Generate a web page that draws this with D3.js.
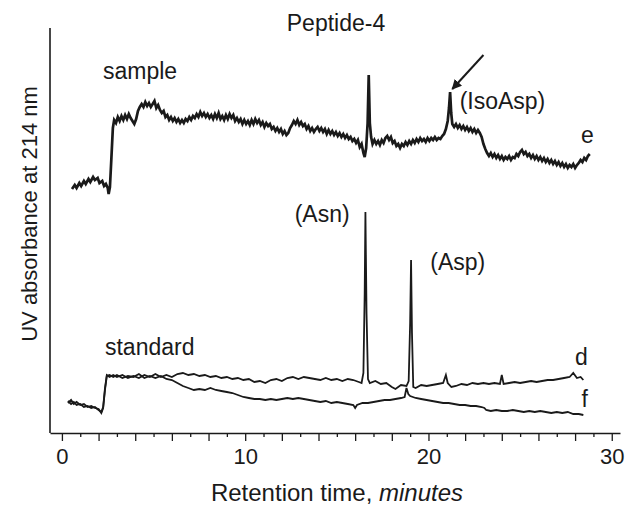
<!DOCTYPE html>
<html>
<head>
<meta charset="utf-8">
<script src="https://cdn.jsdelivr.net/npm/d3@7"></script>
<style>
  body { margin: 0; background: #fff; }
  svg { display: block; font-family: "Liberation Sans", Arial, sans-serif; }
</style>
</head>
<body>
<div id="chart"></div>
<script>
// Chromatogram traces: [retention time (min), UV absorbance (arbitrary units)]
const sampleTrace = [
  [0.55,24.4],[0.7,24.8],[0.8,24.5],[0.95,25.0],[1.05,24.7],[1.2,25.2],[1.3,24.9],[1.45,25.4],[1.55,25.1],[1.7,25.6],
  [1.8,25.3],[1.95,25.5],[2.05,25.0],[2.2,25.2],[2.3,24.7],[2.4,24.9],[2.5,24.5],[2.55,23.9],[2.62,24.6],[2.7,27.5],
  [2.78,30.5],[2.85,31.3],[2.95,31.0],[3.05,31.6],[3.15,31.2],[3.25,31.7],[3.35,31.3],[3.45,31.8],[3.55,31.4],[3.65,31.9],
  [3.75,31.5],[3.85,31.2],[3.95,30.9],[4.05,31.4],[4.15,32.2],[4.25,32.6],[4.35,32.9],[4.45,32.6],[4.55,33.1],[4.65,32.7],
  [4.75,33.0],[4.85,32.6],[4.95,32.9],[5.05,33.2],[5.15,32.5],[5.25,32.8],[5.35,32.3],[5.45,32.0],[5.55,32.2],[5.65,31.6],
  [5.75,31.8],[5.85,31.3],[5.95,31.6],[6.05,31.2],[6.15,31.5],[6.25,31.1],[6.35,31.4],[6.45,31.0],[6.55,31.3],[6.65,31.0],
  [6.75,31.4],[6.85,31.2],[6.95,31.6],[7.05,31.3],[7.15,31.7],[7.25,31.5],[7.35,31.9],[7.45,31.6],[7.55,32.1],[7.65,31.7],
  [7.75,32.0],[7.85,31.6],[7.95,31.9],[8.05,31.5],[8.15,31.8],[8.25,31.4],[8.35,31.9],[8.45,31.5],[8.55,32.0],[8.65,31.4],
  [8.75,31.7],[8.85,31.3],[8.95,31.8],[9.05,31.4],[9.15,31.9],[9.25,31.5],[9.35,31.8],[9.45,31.2],[9.55,31.5],[9.65,31.1],
  [9.75,31.4],[9.85,30.9],[9.95,31.3],[10.05,30.9],[10.15,31.2],[10.25,30.8],[10.35,31.3],[10.45,30.9],[10.55,31.4],[10.65,31.0],
  [10.75,31.3],[10.85,30.8],[10.95,31.1],[11.05,30.6],[11.15,31.0],[11.25,30.7],[11.35,30.9],[11.45,30.4],[11.55,30.6],[11.65,30.2],
  [11.75,30.5],[11.85,30.1],[11.95,30.4],[12.05,29.9],[12.15,30.2],[12.25,29.8],[12.35,30.0],[12.45,30.5],[12.55,30.8],[12.65,31.2],
  [12.75,30.9],[12.85,31.3],[12.95,30.8],[13.05,31.1],[13.15,30.7],[13.25,30.9],[13.35,30.4],[13.45,30.7],[13.55,30.2],[13.65,30.5],
  [13.75,30.1],[13.85,30.4],[13.95,30.6],[14.05,30.2],[14.15,30.5],[14.25,30.1],[14.35,30.4],[14.45,29.9],[14.55,30.3],[14.65,29.9],
  [14.75,30.2],[14.85,29.8],[14.95,30.1],[15.05,29.7],[15.15,30.0],[15.25,29.6],[15.35,29.9],[15.45,29.5],[15.55,29.8],[15.65,29.4],
  [15.75,29.6],[15.85,29.2],[15.95,29.4],[16.05,29.0],[16.15,29.3],[16.25,28.6],[16.35,28.9],[16.45,28.0],[16.52,27.6],[16.6,28.5],
  [16.68,31.0],[16.74,35.8],[16.8,31.0],[16.87,29.6],[16.95,28.9],[17.05,29.3],[17.15,28.9],[17.25,29.2],[17.35,28.8],[17.45,29.3],
  [17.55,29.0],[17.65,29.5],[17.75,29.7],[17.85,29.3],[17.95,29.6],[18.05,29.0],[18.15,29.2],[18.25,28.7],[18.35,28.9],[18.45,28.5],
  [18.55,28.9],[18.65,28.7],[18.75,29.1],[18.85,28.8],[18.95,29.2],[19.05,28.9],[19.15,29.3],[19.25,29.0],[19.35,29.4],[19.45,29.1],
  [19.55,29.5],[19.65,29.2],[19.75,29.4],[19.85,29.1],[19.95,29.5],[20.05,29.2],[20.15,29.5],[20.25,29.3],[20.35,29.6],[20.45,29.3],
  [20.55,29.5],[20.65,29.4],[20.75,29.7],[20.85,29.9],[20.95,30.4],[21.05,31.2],[21.12,32.5],[21.18,34.1],[21.24,32.0],[21.3,30.9],
  [21.4,30.6],[21.5,30.9],[21.6,30.5],[21.7,30.8],[21.8,30.4],[21.9,30.7],[22.0,30.3],[22.1,30.6],[22.2,30.2],[22.3,30.5],
  [22.4,30.1],[22.5,30.4],[22.6,30.0],[22.7,30.3],[22.8,30.0],[22.9,29.6],[23.0,28.9],[23.1,28.4],[23.2,28.0],[23.3,27.7],
  [23.4,28.0],[23.5,27.6],[23.6,27.9],[23.7,27.5],[23.8,27.8],[23.9,27.4],[24.0,27.7],[24.1,27.3],[24.2,27.6],[24.3,27.4],
  [24.4,27.7],[24.5,27.3],[24.6,27.6],[24.7,27.5],[24.8,27.9],[24.9,27.7],[25.0,28.1],[25.1,28.3],[25.2,27.9],[25.3,28.1],
  [25.4,27.7],[25.5,27.9],[25.6,27.5],[25.7,27.8],[25.8,27.4],[25.9,27.7],[26.0,27.3],[26.1,27.6],[26.2,27.2],[26.3,27.5],
  [26.4,27.1],[26.5,27.4],[26.6,27.0],[26.7,27.3],[26.8,26.9],[26.9,27.2],[27.0,26.8],[27.1,27.1],[27.2,26.7],[27.3,27.0],
  [27.4,26.6],[27.5,26.9],[27.6,26.5],[27.7,26.8],[27.8,26.6],[27.9,26.9],[28.0,26.5],[28.1,26.8],[28.2,27.0],[28.3,27.3],
  [28.4,27.1],[28.5,27.5],[28.6,27.3],[28.7,27.7],[28.8,27.9]
];

const standardTraceD = [
  [0.33,3.2],[0.5,2.9],[0.65,3.1],[0.8,2.8],[1.0,2.9],[1.2,2.6],[1.4,2.7],[1.6,2.5],[1.8,2.6],[2.0,2.3],
  [2.15,2.1],[2.25,2.6],[2.35,4.5],[2.45,5.8],[2.6,5.6],[2.8,5.8],[3.0,5.6],[3.3,5.8],[3.6,5.5],[3.9,5.7],
  [4.2,5.5],[4.5,5.8],[4.8,5.6],[5.1,5.9],[5.4,5.6],[5.7,5.8],[6.0,5.6],[6.3,5.9],[6.6,6.0],[6.9,5.8],
  [7.2,5.9],[7.5,5.7],[7.8,5.8],[8.1,5.6],[8.4,5.7],[8.7,5.5],[9.0,5.6],[9.3,5.4],[9.6,5.5],[9.9,5.3],
  [10.2,5.4],[10.5,5.1],[10.8,5.2],[11.1,5.0],[11.4,5.3],[11.7,5.4],[12.0,5.2],[12.3,5.5],[12.6,5.6],[12.9,5.4],
  [13.2,5.6],[13.5,5.5],[13.8,5.4],[14.1,5.3],[14.4,5.5],[14.7,5.3],[15.0,5.4],[15.3,5.2],[15.6,5.4],[15.9,5.3],
  [16.2,5.1],[16.35,5.0],[16.45,6.0],[16.52,14.0],[16.56,22.1],[16.62,12.0],[16.7,5.4],[16.8,5.0],[17.1,5.2],[17.4,4.9],
  [17.7,5.0],[18.0,4.6],[18.2,4.4],[18.5,4.8],[18.8,4.7],[18.92,5.2],[19.0,11.0],[19.05,17.3],[19.1,10.0],[19.17,4.6],
  [19.3,4.5],[19.6,4.8],[19.9,4.7],[20.2,4.8],[20.5,4.9],[20.8,5.0],[20.95,5.8],[21.05,5.0],[21.25,4.6],[21.5,4.7],
  [21.8,4.9],[22.1,4.8],[22.4,5.0],[22.7,4.9],[23.0,5.0],[23.3,4.9],[23.6,5.0],[23.9,4.9],[24.0,5.8],[24.1,4.9],
  [24.4,5.0],[24.7,5.1],[25.0,5.0],[25.3,5.1],[25.6,5.2],[25.9,5.1],[26.2,5.2],[26.5,5.3],[26.8,5.3],[27.1,5.4],
  [27.4,5.5],[27.7,5.6],[27.9,6.0],[28.1,5.5],[28.3,5.6],[28.45,5.3]
];

const standardTraceF = [
  [0.33,3.0],[0.5,3.3],[0.65,2.9],[0.8,3.1],[1.0,2.8],[1.2,2.9],[1.4,2.6],[1.6,2.7],[1.8,2.5],[2.0,2.4],
  [2.15,2.0],[2.25,2.5],[2.35,4.3],[2.45,5.7],[2.6,5.8],[2.8,5.6],[3.0,5.8],[3.3,5.5],[3.6,5.7],[3.9,5.6],
  [4.2,5.9],[4.5,5.5],[4.8,5.7],[5.1,5.5],[5.4,5.7],[5.7,5.4],[6.0,5.3],[6.3,5.0],[6.6,4.7],[6.9,4.5],
  [7.2,4.3],[7.5,4.4],[7.8,4.3],[8.1,4.5],[8.4,4.3],[8.7,4.2],[9.0,4.1],[9.3,4.0],[9.6,3.8],[9.9,3.6],
  [10.2,3.5],[10.5,3.4],[10.8,3.4],[11.1,3.3],[11.4,3.4],[11.7,3.3],[12.0,3.4],[12.3,3.5],[12.6,3.4],[12.9,3.5],
  [13.2,3.4],[13.5,3.3],[13.8,3.2],[14.1,3.1],[14.4,3.2],[14.7,3.0],[15.0,3.1],[15.3,3.0],[15.6,2.9],[15.9,2.8],
  [16.0,2.5],[16.1,2.8],[16.4,3.0],[16.7,3.0],[17.0,3.1],[17.3,3.2],[17.6,3.3],[17.9,3.3],[18.2,3.4],[18.5,3.5],
  [18.7,3.6],[18.8,4.5],[18.9,3.9],[19.0,3.7],[19.3,3.5],[19.6,3.4],[19.9,3.3],[20.2,3.2],[20.5,3.1],[20.8,3.0],
  [21.1,3.0],[21.4,2.9],[21.7,2.8],[22.0,2.8],[22.3,2.7],[22.6,2.7],[22.9,2.6],[23.05,2.5],[23.15,2.3],[23.4,2.2],
  [23.7,2.3],[24.0,2.2],[24.3,2.2],[24.6,2.3],[24.9,2.2],[25.2,2.1],[25.5,2.2],[25.8,2.1],[26.1,2.2],[26.4,2.1],
  [26.7,2.0],[27.0,2.1],[27.3,2.0],[27.6,2.1],[27.9,1.9],[28.2,1.9],[28.45,1.8]
];

// Text annotations placed in data coordinates [time, absorbance]
const annotations = [
  {text: "sample",   t: 2.24,  a: 35.4, anchor: "start"},
  {text: "standard", t: 2.35,  a: 7.8,  anchor: "start"},
  {text: "(Asn)",    t: 15.7,  a: 21.1, anchor: "end"},
  {text: "(Asp)",    t: 20.1,  a: 16.3, anchor: "start"},
  {text: "(IsoAsp)", t: 21.7,  a: 32.4, anchor: "start"},
  {text: "e",        t: 28.67, a: 29.0, anchor: "middle"},
  {text: "d",        t: 28.34, a: 6.8,  anchor: "middle"},
  {text: "f",        t: 28.53, a: 2.6,  anchor: "middle"}
];
const arrowFrom = [23.0, 37.8];
const arrowTo = [21.3, 34.4];

const xDomain = [-0.65, 30.45];
const yDomain = [0, 40.5];
const majorTicks = d3.range(0, 31, 2);
const minorTicks = d3.range(1, 30, 2);
const labelledTicks = [0, 10, 20, 30];


/*******************************/
/*    Declare the constants    */
/*******************************/
const margin = {top: 28, right: 16, bottom: 76, left: 50};
const width = 636;
const height = 509;
const innerWidth = width - margin.left - margin.right;
const innerHeight = height - margin.top - margin.bottom;
const fontSize = "23px";
const ink = "#1a1a1a";

const svg = d3.select("#chart")
  .append("svg")
    .attr("width", width)
    .attr("height", height);

const innerChart = svg
  .append("g")
    .attr("transform", `translate(${margin.left}, ${margin.top})`);

const xScale = d3.scaleLinear()
  .domain(xDomain)
  .range([0, innerWidth]);

const yScale = d3.scaleLinear()
  .domain(yDomain)
  .range([innerHeight, 0]);


/*******************************/
/*    Axes                     */
/*******************************/
// minor ticks (every odd minute), short
innerChart
  .append("g")
    .attr("transform", `translate(0, ${innerHeight})`)
    .call(d3.axisBottom(xScale).tickValues(minorTicks).tickSize(4).tickFormat(""))
    .call(g => g.select(".domain").remove())
    .call(g => g.selectAll("text").remove())
    .call(g => g.selectAll("line").attr("stroke", ink).attr("stroke-width", 1.3));

// major ticks every 2 minutes
innerChart
  .append("g")
    .attr("transform", `translate(0, ${innerHeight})`)
    .call(d3.axisBottom(xScale).tickValues(majorTicks).tickSize(8).tickSizeOuter(0).tickFormat(""))
    .call(g => g.select(".domain").attr("stroke", ink).attr("stroke-width", 1.6))
    .call(g => g.selectAll("text").remove())
    .call(g => g.selectAll("line").attr("stroke", ink).attr("stroke-width", 1.3));

// tick labels every 10 minutes
innerChart
  .append("g")
    .attr("transform", `translate(0, ${innerHeight})`)
    .call(d3.axisBottom(xScale).tickValues(labelledTicks).tickSize(8).tickPadding(7))
    .call(g => g.select(".domain").remove())
    .call(g => g.selectAll("line").remove())
    .call(g => g.selectAll("text")
      .attr("fill", ink)
      .style("font-size", "22px")
      .style("font-family", "'Liberation Sans', Arial, sans-serif"));

// y axis: plain line, no ticks
innerChart
  .append("line")
    .attr("x1", 0)
    .attr("x2", 0)
    .attr("y1", 0)
    .attr("y2", innerHeight)
    .attr("stroke", ink)
    .attr("stroke-width", 1.6);

// labels
svg
  .append("text")
    .attr("x", margin.left + innerWidth / 2 + 1)
    .attr("y", 31)
    .attr("text-anchor", "middle")
    .attr("fill", ink)
    .style("font-size", fontSize)
    .text("Peptide-4");

const xLabel = svg
  .append("text")
    .attr("x", margin.left + innerWidth / 2 + 2)
    .attr("y", 501)
    .attr("text-anchor", "middle")
    .attr("fill", ink)
    .style("font-size", "24px");
xLabel.append("tspan").text("Retention time, ");
xLabel.append("tspan").attr("font-style", "italic").text("minutes");

svg
  .append("text")
    .attr("transform", `translate(37, ${margin.top + 186}) rotate(-90)`)
    .attr("text-anchor", "middle")
    .attr("fill", ink)
    .style("font-size", "22px")
    .text("UV absorbance at 214 nm");


/*******************************/
/*    Traces                   */
/*******************************/
const line = d3.line()
  .x(d => xScale(d[0]))
  .y(d => yScale(d[1]));

innerChart
  .append("path")
    .datum(sampleTrace)
    .attr("d", line)
    .attr("fill", "none")
    .attr("stroke", ink)
    .attr("stroke-width", 2.7);

[standardTraceD, standardTraceF].forEach(trace => {
  innerChart
    .append("path")
      .datum(trace)
      .attr("d", line)
      .attr("fill", "none")
      .attr("stroke", ink)
      .attr("stroke-width", 1.8);
});


/*******************************/
/*    Annotations              */
/*******************************/
innerChart.selectAll(".annotation")
  .data(annotations)
  .join("text")
    .attr("class", "annotation")
    .attr("x", d => xScale(d.t))
    .attr("y", d => yScale(d.a))
    .attr("text-anchor", d => d.anchor)
    .attr("fill", ink)
    .style("font-size", fontSize)
    .text(d => d.text);

// arrow pointing at the IsoAsp peak
svg.append("defs")
  .append("marker")
    .attr("id", "head")
    .attr("viewBox", "0 0 10 10")
    .attr("refX", 9)
    .attr("refY", 5)
    .attr("markerWidth", 5)
    .attr("markerHeight", 5)
    .attr("orient", "auto")
  .append("path")
    .attr("d", "M0,0 L10,5 L0,10 Z")
    .attr("fill", ink);

innerChart
  .append("line")
    .attr("x1", xScale(arrowFrom[0]))
    .attr("y1", yScale(arrowFrom[1]))
    .attr("x2", xScale(arrowTo[0]))
    .attr("y2", yScale(arrowTo[1]))
    .attr("stroke", ink)
    .attr("stroke-width", 2)
    .attr("marker-end", "url(#head)");
</script>
</body>
</html>
